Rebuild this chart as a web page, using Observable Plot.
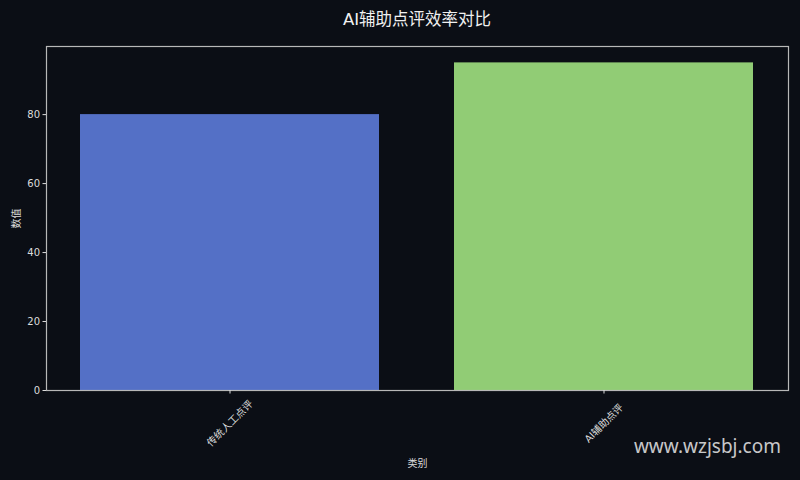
<!DOCTYPE html>
<html>
<head>
<meta charset="utf-8">
<script src="https://cdn.jsdelivr.net/npm/d3@7"></script>
<script src="https://cdn.jsdelivr.net/npm/@observablehq/plot@0.6"></script>
<style>
  html, body { margin: 0; padding: 0; background: #0b0e15; }
  #wrap { position: relative; width: 800px; height: 480px; background: #0b0e15; overflow: hidden; }
  #title { position: absolute; left: 17px; width: 800px; top: 6px; text-align: center; color: #f0f0f0;
           font-family: "DejaVu Sans", "Noto Sans CJK SC", sans-serif; font-size: 16.5px; }
  #wm { position: absolute; right: 19px; top: 433px; color: rgba(235,235,235,0.85);
        font-family: "Noto Sans", "Open Sans", sans-serif; font-size: 19px; }
</style>
</head>
<body>
<div id="wrap">
  <div id="chart"></div>
  <div id="title">AI辅助点评效率对比</div>
  <div id="wm">www.wzjsbj.com</div>
</div>
<script>
const categories = ["传统人工点评", "AI辅助点评"];
const values = [80, 95];
const colors = ["#5470c6", "#91cc75"];
const yTicks = [0, 20, 40, 60, 80];

const data = categories.map((c, i) => ({category: c, value: values[i], color: colors[i]}));
const axisColor = "#dcdcdc";
const font = '"DejaVu Sans", "Noto Sans CJK SC", sans-serif';

const chart = Plot.plot({
  width: 800,
  height: 480,
  marginTop: 46,
  marginLeft: 46,
  marginRight: 12,
  marginBottom: 90,
  style: {background: "#0b0e15", color: axisColor, fontFamily: font, fontSize: "10px"},
  x: {type: "band", domain: categories, paddingInner: 0.2, paddingOuter: 0.09},
  y: {domain: [0, 99.75]},
  color: {type: "identity"},
  marks: [
    Plot.barY(data, {x: "category", y: "value", fill: "color"}),
    Plot.frame({stroke: "#b8b8b8", strokeWidth: 1.2}),
    Plot.axisY({ticks: yTicks, tickSize: 3.5, tickPadding: 3, stroke: axisColor, fill: axisColor,
                label: "数值", labelAnchor: "center", labelArrow: "none", labelOffset: 34, fontSize: 10}),
    Plot.axisX({tickSize: 3.5, stroke: axisColor, tickFormat: () => "",
                label: "类别", labelAnchor: "center", labelArrow: "none", labelOffset: 76, fill: axisColor, fontSize: 10}),
    Plot.text(categories, {x: d => d, frameAnchor: "bottom", dy: 33, rotate: -45,
                           fill: axisColor, fontSize: 10, textAnchor: "middle", lineAnchor: "middle"})
  ]
});
document.getElementById("chart").appendChild(chart);
</script>
</body>
</html>
